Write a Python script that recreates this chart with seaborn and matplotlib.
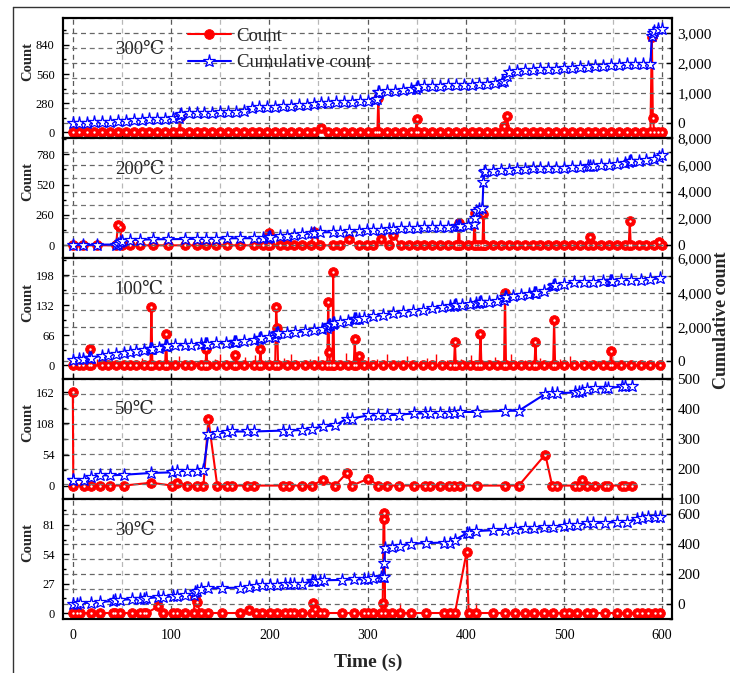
import matplotlib
matplotlib.use("Agg")
import matplotlib.pyplot as plt
import seaborn as sns
import pandas as pd
from matplotlib.ticker import MultipleLocator, FuncFormatter
from matplotlib.lines import Line2D

# ---------------- data ----------------
panel_labels = ["300℃", "200℃", "100℃", "50℃", "30℃"]
x_ticks = [0, 100, 200, 300, 400, 500, 600]

# 300 C
t300 = [0, 6, 14, 22, 30, 38, 46, 54, 62, 70,
        78, 86, 94, 102, 108, 109, 110, 118, 126, 134,
        142, 150, 158, 166, 174, 182, 190, 198, 206, 214,
        222, 230, 238, 246, 253, 260, 268, 276, 284, 292,
        300, 308, 310, 311, 312, 320, 328, 336, 344, 349,
        350, 351, 358, 366, 374, 382, 390, 398, 406, 414,
        422, 430, 437, 439, 442, 444, 452, 460, 468, 476,
        484, 492, 500, 508, 516, 524, 532, 540, 548, 556,
        564, 572, 580, 588, 589.5, 590.5, 592, 596, 600]
count300 = [0, 0, 0, 0, 0, 0, 0, 0, 0, 0,
            0, 0, 0, 0, 0, 143, 0, 0, 0, 0,
            0, 0, 0, 0, 0, 0, 0, 0, 0, 0,
            0, 0, 0, 0, 45, 0, 0, 0, 0, 0,
            0, 0, 0, 325, 0, 0, 0, 0, 0, 0,
            131, 0, 0, 0, 0, 0, 0, 0, 0, 0,
            0, 0, 0, 60, 156, 0, 0, 0, 0, 0,
            0, 0, 0, 0, 0, 0, 0, 0, 0, 0,
            0, 0, 0, 0, 920, 140, 0, 0, 0]
cum300 = [0, 10, 20, 30, 40, 55, 70, 80, 100, 110,
          125, 140, 155, 165, 170, 280, 320, 335, 340, 345,
          355, 360, 370, 385, 410, 520, 525, 530, 550, 565,
          580, 600, 620, 640, 660, 675, 690, 700, 715, 730,
          745, 770, 790, 1030, 1045, 1060, 1070, 1090, 1130, 1150,
          1190, 1220, 1230, 1240, 1240, 1255, 1265, 1270, 1285, 1300,
          1310, 1330, 1370, 1390, 1560, 1700, 1750, 1770, 1780, 1790,
          1800, 1815, 1830, 1850, 1860, 1880, 1900, 1910, 1920, 1940,
          1955, 1960, 1970, 1970, 2900, 3000, 3080, 3120, 3150]

# 200 C
t200 = [0, 10, 25, 44, 46, 48, 50, 58, 68, 82,
        97, 114, 126, 136, 146, 157, 170, 184, 194, 199,
        200, 201, 211, 218, 225, 233, 242, 246, 252, 265,
        272, 281, 291, 299, 306, 314, 322, 326, 334, 342,
        350, 358, 366, 374, 382, 390, 392, 393, 394, 402,
        408, 409, 410, 414, 417, 418, 419, 420, 428, 436,
        444, 452, 460, 468, 476, 484, 492, 500, 508, 516,
        524, 527, 530, 538, 546, 554, 562, 566, 567, 568,
        576, 584, 592, 597, 600]
count200 = [0, 0, 0, 0, 175, 160, 0, 0, 0, 0,
            0, 0, 0, 0, 0, 0, 0, 0, 0, 0,
            103, 0, 0, 0, 0, 0, 0, 110, 0, 0,
            0, 57, 0, 0, 0, 51, 0, 86, 0, 0,
            0, 0, 0, 0, 0, 0, 0, 195, 0, 0,
            0, 280, 0, 0, 0, 266, 0, 0, 0, 0,
            0, 0, 0, 0, 0, 0, 0, 0, 0, 0,
            0, 74, 0, 0, 0, 0, 0, 0, 209, 0,
            0, 0, 0, 30, 0]
cum200 = [0, 0, 30, 40, 60, 200, 330, 380, 400, 430,
          440, 450, 470, 480, 490, 500, 510, 510, 520, 560,
          600, 630, 650, 700, 750, 800, 870, 930, 940, 980,
          1000, 1040, 1080, 1110, 1130, 1150, 1180, 1200, 1250, 1280,
          1300, 1320, 1330, 1335, 1340, 1400, 1420, 1440, 1460, 1500,
          1550, 2030, 2530, 2700, 2790, 4690, 5500, 5520, 5570, 5600,
          5640, 5660, 5700, 5750, 5750, 5750, 5760, 5780, 5820, 5860,
          5900, 5920, 5940, 5980, 6020, 6060, 6150, 6230, 6260, 6270,
          6300, 6400, 6470, 6600, 6710]

# 100 C
t100 = [0, 6, 10, 16, 17, 18, 30, 36, 44, 52,
        58, 64, 72, 79, 80, 81, 88, 94, 95, 96,
        104, 114, 120, 130, 135, 136, 137, 146, 156, 164,
        165, 166, 174, 184, 190, 191, 192, 200, 206, 207,
        208, 209, 218, 226, 236, 246, 254, 259, 260, 261,
        262, 264.5, 265, 266, 272, 280, 286, 287, 288, 291,
        296, 306, 316, 326, 336, 346, 356, 366, 376, 384,
        388, 389, 390, 396, 404, 410, 414, 415, 416, 424,
        432, 439, 440, 441, 448, 456, 464, 470, 471, 472,
        480, 489, 490, 491, 500, 510, 520, 530, 540, 547,
        548, 549, 558, 568, 578, 588, 598]
count100 = [0, 0, 0, 0, 35, 0, 0, 0, 0, 0,
            0, 0, 0, 0, 129, 0, 0, 0, 68, 0,
            0, 0, 0, 0, 0, 35, 0, 0, 0, 0,
            22, 0, 0, 0, 0, 37, 0, 0, 0, 129,
            83, 0, 0, 0, 0, 0, 0, 0, 139, 29,
            0, 0, 205, 0, 0, 0, 0, 59, 0, 20,
            0, 0, 0, 0, 0, 0, 0, 0, 0, 0,
            0, 51, 0, 0, 0, 0, 0, 70, 0, 0,
            0, 0, 158, 0, 0, 0, 0, 0, 51, 0,
            0, 0, 100, 0, 0, 0, 0, 0, 0, 0,
            32, 0, 0, 0, 0, 0, 0]
cum100 = [80, 120, 150, 200, 215, 220, 330, 390, 460, 510,
          560, 620, 680, 710, 720, 730, 800, 870, 880, 890,
          930, 950, 970, 990, 1010, 1020, 1025, 1060, 1090, 1140,
          1150, 1160, 1200, 1270, 1330, 1340, 1350, 1420, 1450, 1600,
          1630, 1640, 1670, 1700, 1750, 1850, 1900, 1930, 2050, 2120,
          2150, 2180, 2215, 2240, 2290, 2380, 2450, 2480, 2490, 2500,
          2540, 2620, 2700, 2800, 2860, 2950, 3010, 3090, 3150, 3220,
          3250, 3270, 3280, 3300, 3360, 3390, 3420, 3440, 3460, 3490,
          3510, 3600, 3770, 3780, 3800, 3850, 3910, 3960, 3980, 4000,
          4100, 4420, 4450, 4460, 4520, 4600, 4640, 4643, 4670, 4690,
          4700, 4700, 4740, 4740, 4760, 4790, 4830]
# thin unmarked spikes of the count trace at 100 C
spike_t100 = [8, 25, 33, 40, 63, 70, 100, 108, 125, 145, 150, 160, 175, 185,
              196, 215, 222, 230, 241, 250, 270, 278, 296, 301, 310, 320, 331,
              340, 350, 361, 370, 381, 395, 405, 421, 430, 446, 460, 476, 485,
              496, 506, 521, 535, 560]
spike_v100 = [10, 14, 8, 12, 9, 16, 12, 20, 8, 14, 24, 10, 18, 22,
              12, 16, 26, 10, 14, 20, 12, 28, 10, 18, 14, 24, 12,
              20, 10, 16, 26, 12, 14, 22, 10, 18, 24, 12, 16, 10,
              14, 20, 8, 10, 8]

# 50 C
t50 = [0, 0.5, 11, 18, 28, 38, 52, 80, 101, 106,
       116, 126, 133, 138, 147, 157, 162, 177, 184, 214,
       220, 233, 243, 255, 267, 279, 284, 301, 311, 320,
       332, 347, 359, 364, 374, 383, 388, 394, 411, 440,
       454, 481, 488, 493, 511, 515, 518, 523, 532, 542,
       545, 559, 562, 569]
count50 = [162, 0, 0, 0, 0, 0, 0, 5, 0, 5,
           0, 0, 0, 116, 0, 0, 0, 0, 0, 0,
           0, 0, 0, 10, 0, 22, 0, 12, 0, 0,
           0, 0, 0, 0, 0, 0, 0, 0, 0, 0,
           0, 54, 0, 0, 0, 0, 9, 0, 0, 0,
           0, 0, 0, 0]
cum50 = [163, 163, 163, 171, 178, 178, 180, 186, 188, 191,
         194, 194, 197, 316, 318, 321, 324, 324, 324, 327,
         327, 329, 333, 341, 344, 367, 367, 378, 378, 378,
         380, 384, 384, 385, 386, 386, 387, 389, 389, 393,
         393, 449, 451, 451, 454, 457, 460, 465, 468, 468,
         468, 474, 474, 476]

# 30 C
t30 = [0, 4, 7, 19, 28, 41, 43, 48, 60, 68,
       72, 75, 87, 92, 102, 106, 114, 123, 124.6, 126,
       130, 138, 152, 170, 179, 186, 193, 201, 208, 216,
       221, 225, 233, 243, 245, 247, 252, 256, 274, 286,
       296, 300, 306, 314, 315.5, 316.3, 317, 318, 325, 333,
       344, 360, 378, 384, 389, 401, 403, 410, 428, 440,
       450, 460, 469, 480, 489, 500, 505, 513, 523, 530,
       542, 554, 564, 574, 579, 586, 593, 598]
count30 = [0, 0, 0, 0, 0, 0, 0, 0, 0, 0,
           0, 0, 6, 0, 0, 0, 0, 0, 15, 10,
           0, 0, 0, 0, 3, 0, 0, 0, 0, 0,
           0, 0, 0, 0, 9.5, 4, 0, 0, 0, 0,
           0, 0, 0, 0, 9, 86, 92, 0, 0, 0,
           0, 0, 0, 0, 0, 56.5, 0, 0, 0, 0,
           0, 0, 0, 0, 0, 0, 0, 0, 0, 0,
           0, 0, 0, 0, 0, 0, 0, 0]
cum30 = [0, 2, 5, 9, 13, 20, 24, 28, 31, 31,
         35, 38, 45, 47, 50, 53, 57, 62, 80, 88,
         98, 104, 106, 109, 115, 120, 124, 127, 129, 131,
         133, 135, 135, 150, 153, 153, 156, 158, 160, 164,
         164, 165, 171, 178, 180, 180, 276, 371, 380, 387,
         402, 405, 409, 409, 427, 470, 475, 485, 491, 495,
         498, 505, 505, 510, 513, 520, 525, 527, 536, 538,
         542, 545, 547, 565, 571, 576, 580, 580]
# thin unmarked spikes at 30 C
spike_t30 = [333, 410]
spike_v30 = [9, 9]

# axis ticks of each panel (left: count, right: cumulative count)
left_ticks = [[0, 280, 560, 840], [0, 260, 520, 780], [0, 66, 132, 198],
              [0, 54, 108, 162], [0, 27, 54, 81]]
right_ticks = [[0, 1000, 2000, 3000], [0, 2000, 4000, 6000, 8000],
               [0, 2000, 4000, 6000], [100, 200, 300, 400, 500],
               [0, 200, 400, 600]]

# ---------------- layout / style ----------------
left_lims = [(-57, 1099), (-112, 918), (-29, 235), (-23, 186), (-5.5, 105)]
right_lims = [(-500, 3500), (-1000, 8000), (-1000, 6000), (100, 500), (-100, 700)]

series = [(t300, count300, cum300), (t200, count200, cum200),
          (t100, count100, cum100), (t50, count50, cum50),
          (t30, count30, cum30)]
spikes = [None, None, (spike_t100, spike_v100), None, (spike_t30, spike_v30)]

sns.set_theme(style="white")
plt.rcParams["font.family"] = ["Liberation Serif", "DejaVu Serif"]
plt.rcParams["axes.unicode_minus"] = False

W_PX, H_PX = 730, 673
fig = plt.figure(figsize=(W_PX / 100, H_PX / 100), dpi=100)

ax_left, ax_right_px = 63, 672
top_px, bot_px = 18, 619
ph = (bot_px - top_px) / 5.0

RED = "#FF0000"
BLUE = "#0000FF"
DASH = (0, (4, 3))

for i in range(5):
    t, cnt, cum = series[i]
    y0 = 1 - (top_px + (i + 1) * ph) / H_PX
    ax = fig.add_axes([ax_left / W_PX, y0, (ax_right_px - ax_left) / W_PX, ph / H_PX])
    ax2 = ax.twinx()
    df = pd.DataFrame({"t": t, "count": cnt, "cum": cum})

    if spikes[i] is not None:
        st, sv = spikes[i]
        ax.vlines(st, 0, sv, color=RED, linewidth=1.0, zorder=1.8)

    sns.lineplot(data=df, x="t", y="count", ax=ax, estimator=None, sort=False,
                 color=RED, linewidth=1.5, marker="o", markersize=7,
                 markeredgecolor=RED, markeredgewidth=0.6, legend=False)
    # small white highlight of the ball markers
    sns.scatterplot(data=df, x="t", y="count", ax=ax, s=3, color="white",
                    linewidth=0, zorder=2.5, legend=False)
    sns.lineplot(data=df, x="t", y="cum", ax=ax2, estimator=None, sort=False,
                 color=BLUE, linewidth=1.5, marker="*", markersize=9.5,
                 markerfacecolor="white", markeredgecolor=BLUE,
                 markeredgewidth=0.9, legend=False)

    ax.set_xlim(-10, 610)
    ax.set_ylim(*left_lims[i])
    ax2.set_ylim(*right_lims[i])
    ax.set_xticks(x_ticks)
    ax.xaxis.set_minor_locator(MultipleLocator(50))
    ax.set_yticks(left_ticks[i])
    ax.yaxis.set_minor_locator(MultipleLocator(left_ticks[i][1] / 2))
    ax2.set_yticks(right_ticks[i])
    ax2.yaxis.set_minor_locator(MultipleLocator((right_ticks[i][1] - right_ticks[i][0]) / 2))
    ax2.yaxis.set_major_formatter(FuncFormatter(lambda v, p: f"{int(round(v)):,}"))

    ax.grid(False)
    ax2.grid(False)
    ax.xaxis.grid(True, which="major", linestyle=DASH, color="0.35", linewidth=0.9)
    ax.xaxis.grid(True, which="minor", linestyle=DASH, color="0.72", linewidth=0.9)
    ax2.yaxis.grid(True, which="major", linestyle=DASH, color="0.4", linewidth=0.9)
    ax2.yaxis.grid(True, which="minor", linestyle=DASH, color="0.45", linewidth=0.9)
    ax.set_axisbelow(True)
    ax2.set_axisbelow(True)

    ax.tick_params(axis="y", which="both", direction="in", left=True, right=False,
                   labelsize=9, pad=6, colors="black")
    ax.tick_params(axis="y", which="major", length=4, width=1)
    ax.tick_params(axis="y", which="minor", length=2.5, width=1)
    ax2.tick_params(axis="y", which="both", direction="in", right=True, left=False,
                    labelsize=11, pad=4, colors="black")
    ax2.tick_params(axis="y", which="major", length=4, width=1)
    ax2.tick_params(axis="y", which="minor", length=2.5, width=1)
    ax.tick_params(axis="x", which="both", direction="in", bottom=True, top=False,
                   labelbottom=(i == 4), labelsize=10, pad=7, colors="black")
    ax.tick_params(axis="x", which="major", length=4, width=1)
    ax.tick_params(axis="x", which="minor", length=2.5, width=1)

    for a in (ax, ax2):
        for s in a.spines.values():
            s.set_linewidth(1.5)
            s.set_color("black")

    ax.set_xlabel("")
    ax2.set_ylabel("")
    ax.set_ylabel("Count", fontsize=10.5, fontweight="bold")
    ax.yaxis.set_label_coords(-0.048, 0.636)

    ax.text(0.085, 0.74, panel_labels[i], transform=ax.transAxes, ha="left",
            va="center", fontsize=13.5,
            family=["Liberation Serif", "DejaVu Serif"])

    if i == 0:
        handles = (ax.get_lines()[0], ax2.get_lines()[0])
        ax2.legend(handles, ["Count", "Cumulative count"], loc="upper left",
                   bbox_to_anchor=(0.205, 0.92), frameon=False, fontsize=13.5,
                   handlelength=2.3, handletextpad=0.3, labelspacing=0.5,
                   borderpad=0, borderaxespad=0, numpoints=1)

fig.text(368 / W_PX, 1 - 662 / H_PX, "Time (s)", ha="center", va="center",
         fontsize=14, fontweight="bold")
fig.text(721 / W_PX, 1 - 320 / H_PX, "Cumulative count", ha="center",
         va="center", rotation=90, fontsize=13, fontweight="bold")

# outer frame of the original figure
fig.add_artist(Line2D([13 / W_PX, 1.0], [1 - 7 / H_PX, 1 - 7 / H_PX],
                      color="0.2", linewidth=1.0, transform=fig.transFigure))
fig.add_artist(Line2D([13 / W_PX, 13 / W_PX], [0.0, 1 - 7 / H_PX],
                      color="0.2", linewidth=1.0, transform=fig.transFigure))

fig.savefig("out.png", dpi=100)
